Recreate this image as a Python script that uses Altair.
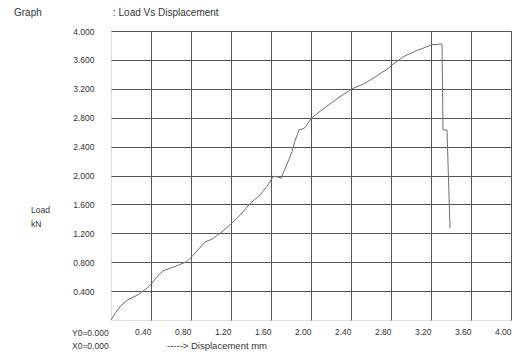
import altair as alt
import pandas as pd

# Displacement (mm) and load (kN) readings from the test record
displacement = [0.00, 0.04, 0.10, 0.17, 0.27, 0.36, 0.41, 0.46, 0.52, 0.64,
                0.76, 0.81, 0.87, 0.94, 1.01, 1.07, 1.11, 1.20, 1.29, 1.39,
                1.49, 1.56, 1.61, 1.63, 1.68, 1.70, 1.73, 1.77, 1.81, 1.84,
                1.88, 1.93, 2.01, 2.11, 2.21, 2.29, 2.41, 2.53, 2.66, 2.78,
                2.81, 2.93, 3.06, 3.21, 3.31, 3.32, 3.36, 3.39]
load = [0.00, 0.09, 0.20, 0.28, 0.35, 0.44, 0.51, 0.60, 0.68, 0.74,
        0.81, 0.88, 0.97, 1.08, 1.12, 1.18, 1.22, 1.33, 1.45, 1.61,
        1.73, 1.85, 1.96, 1.99, 1.975, 1.96, 2.06, 2.19, 2.33, 2.48,
        2.63, 2.65, 2.80, 2.91, 3.01, 3.09, 3.20, 3.27, 3.38, 3.49,
        3.53, 3.65, 3.73, 3.81, 3.82, 2.63, 2.63, 1.27]

x_ticks = [0.4, 0.8, 1.2, 1.6, 2.0, 2.4, 2.8, 3.2, 3.6, 4.0]
y_ticks = [0.4, 0.8, 1.2, 1.6, 2.0, 2.4, 2.8, 3.2, 3.6, 4.0]

df = pd.DataFrame({"seq": range(len(load)), "disp": displacement, "load": load})

FONT = "Liberation Sans"
TXT = "#333333"
GRID = "#555555"

curve = alt.Chart(df).mark_line(color="#707070", strokeWidth=1).encode(
    x=alt.X("disp:Q", scale=alt.Scale(domain=[0, 4], nice=False, zero=True),
            axis=alt.Axis(values=x_ticks, format=".2f", title=None, grid=True,
                          gridColor=GRID, gridWidth=1, gridOpacity=1,
                          domain=False, ticks=False, labelAlign="right",
                          labelBaseline="top", labelPadding=7,
                          labelFont=FONT, labelFontSize=8.5, labelColor=TXT)),
    y=alt.Y("load:Q", scale=alt.Scale(domain=[0, 4], nice=False, zero=True),
            axis=alt.Axis(values=y_ticks, format=".3f", title=None, grid=True,
                          gridColor=GRID, gridWidth=1, gridOpacity=1,
                          domain=False, ticks=False, labelAlign="right",
                          labelBaseline="middle", labelPadding=17,
                          labelFont=FONT, labelFontSize=8.5, labelColor=TXT)),
    order="seq:Q",
)


def note(text, x, y, size=8.5):
    return alt.Chart(pd.DataFrame({"t": [text]})).mark_text(
        align="left", baseline="middle", font=FONT, fontSize=size, color=TXT
    ).encode(x=alt.value(x), y=alt.value(y), text="t:N")


notes = [
    note("Graph", -97, -18, 10),
    note(":  Load Vs Displacement", 2, -18, 10),
    note("Load", -80, 178.5),
    note("kN", -80, 192.5),
    note("Y0=0.000", -39, 301.5),
    note("X0=0.000", -39, 315),
    note("-----> Displacement  mm", 56, 315, 9.5),
]

chart = alt.layer(curve, *notes).properties(
    width=400,
    height=289,
    padding={"left": 111, "top": 31, "right": 7, "bottom": 34},
    autosize=alt.AutoSizeParams(type="none"),
).configure_view(stroke=GRID, strokeWidth=1).configure(background="white")

chart.save("out.html", embed_options={"renderer": "svg", "actions": False})
